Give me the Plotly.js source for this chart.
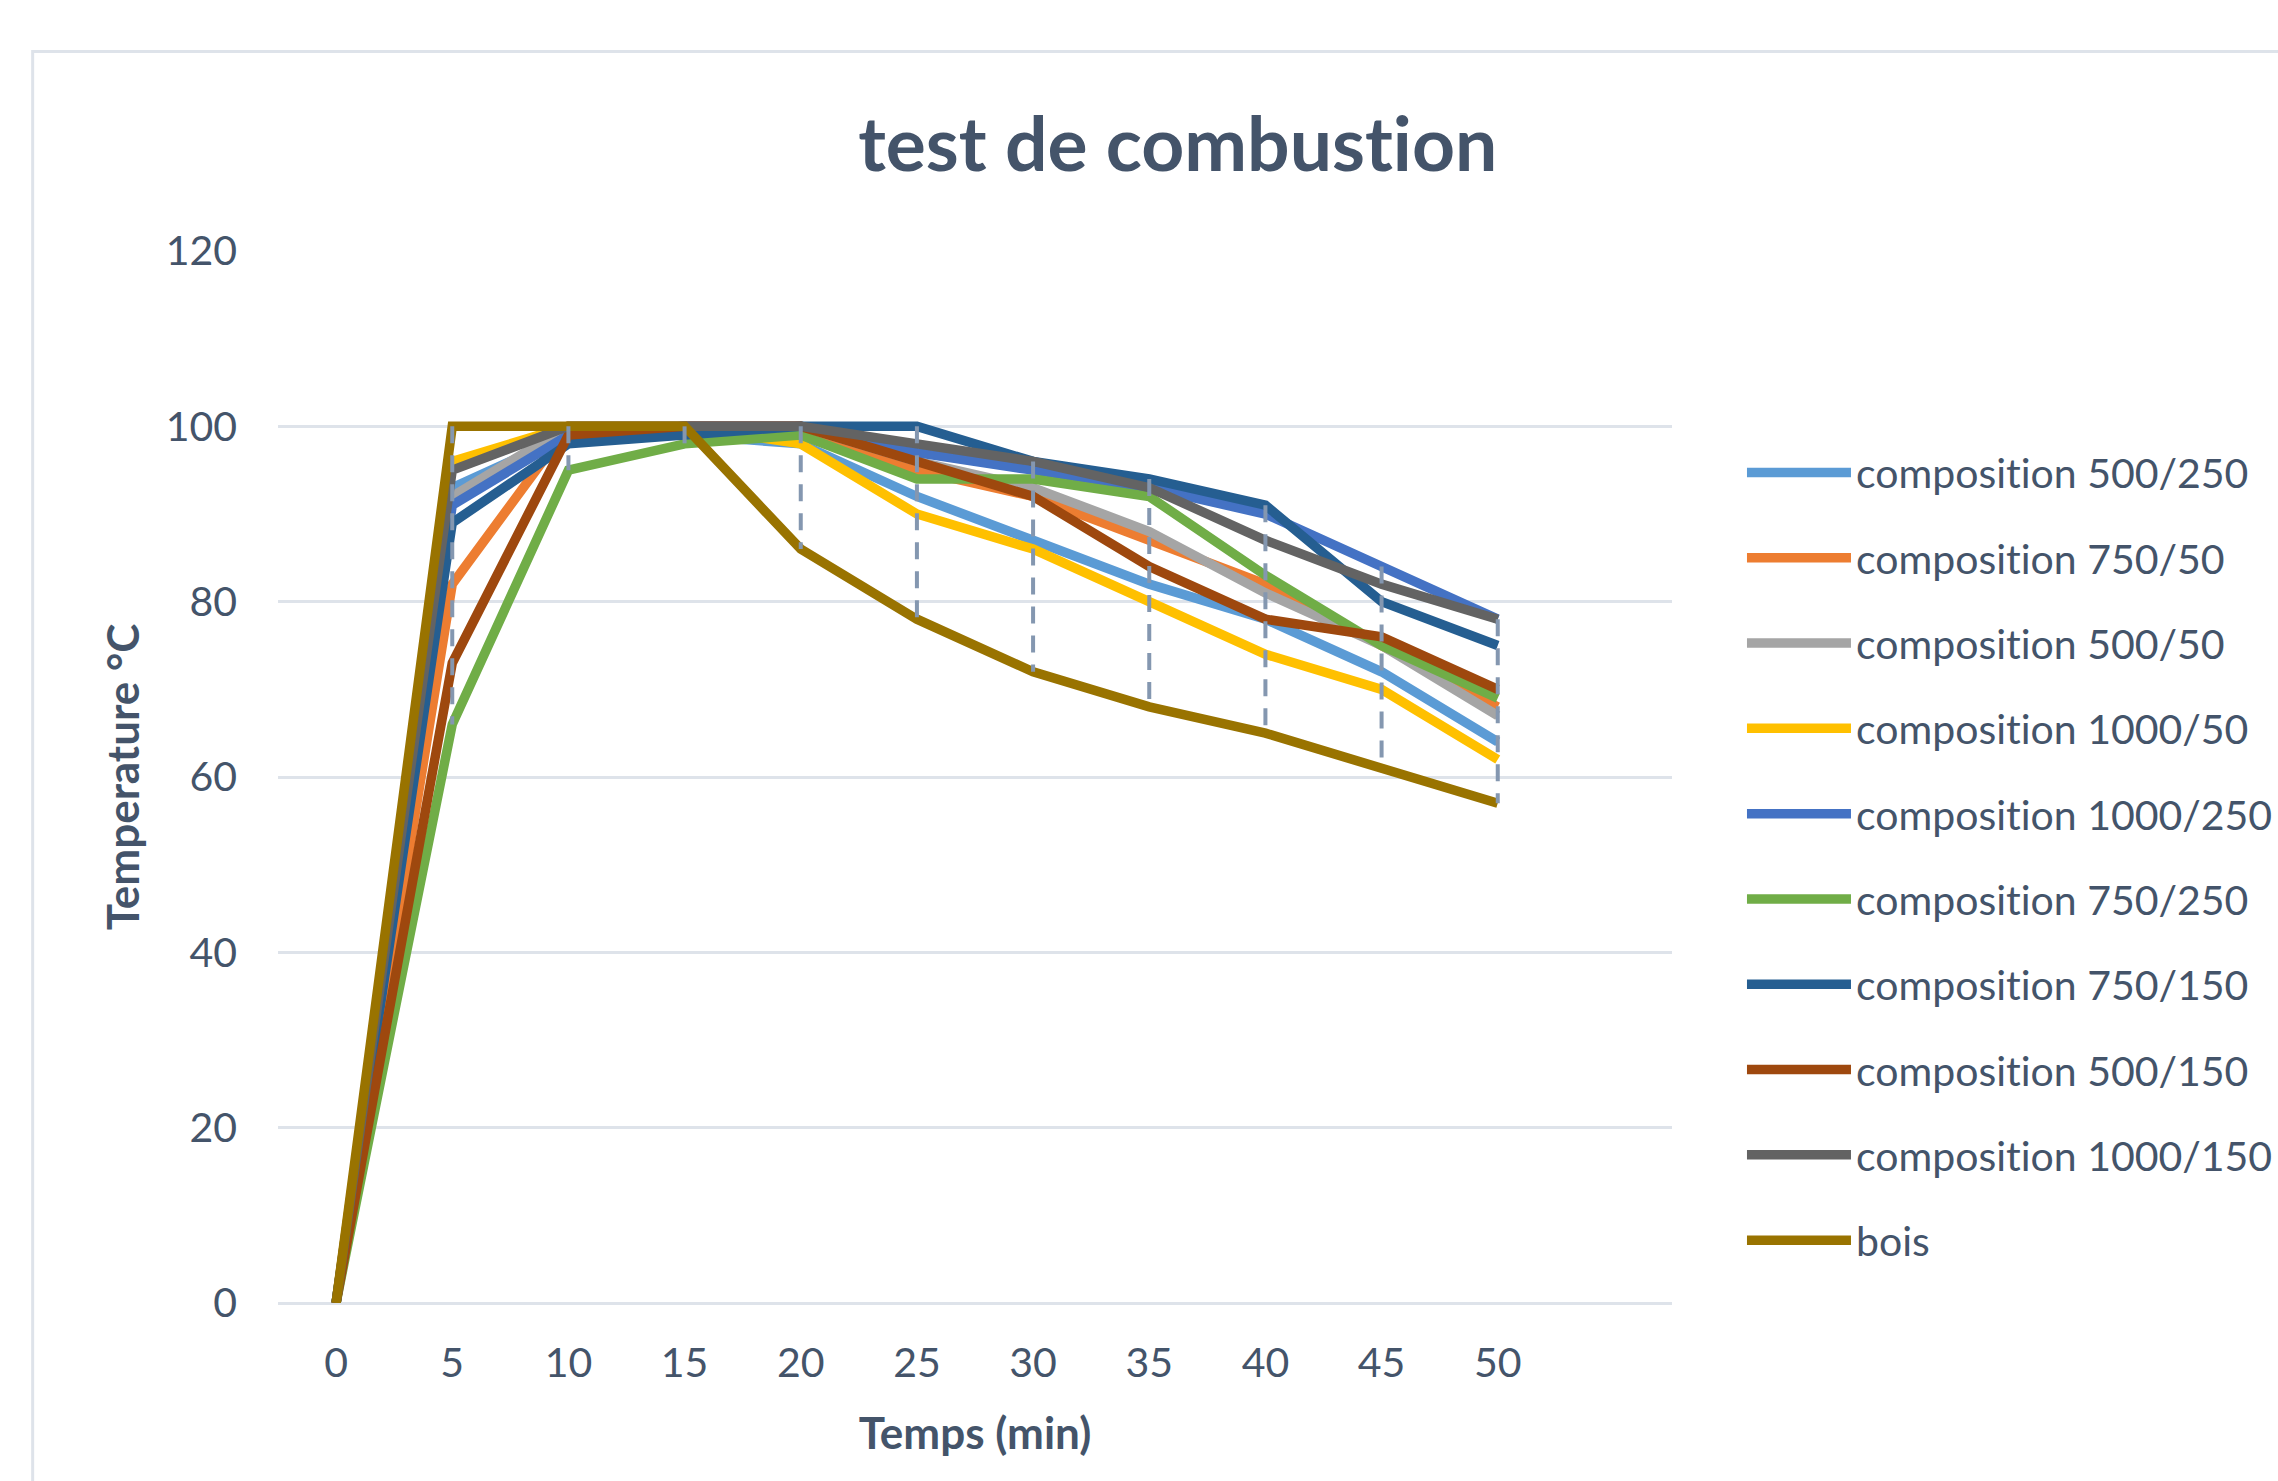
<!DOCTYPE html>
<html>
<head>
<meta charset="utf-8">
<script src="https://cdn.plot.ly/plotly-3.0.1.min.js"></script>
<style>
html,body{margin:0;padding:0;background:#fff;}
#chart{width:2278px;height:1481px;}
#chart text{font-variant-ligatures:none;font-feature-settings:"liga" 0;}
</style>
</head>
<body>
<div id="chart"></div>
<script>
// ---- data ----
const temps = [0, 5, 10, 15, 20, 25, 30, 35, 40, 45, 50];
const xTickLabels = ['0','5','10','15','20','25','30','35','40','45','50'];
const yTickValues = [0, 20, 40, 60, 80, 100, 120];

const seriesNames = [
  'composition 500/250', 'composition 750/50', 'composition 500/50',
  'composition 1000/50', 'composition 1000/250', 'composition 750/250',
  'composition 750/150', 'composition 500/150', 'composition 1000/150', 'bois'
];
const comp500_250  = [0, 93, 99, 99, 98, 92, 87, 82, 78, 72, 64];
const comp750_50   = [0, 82, 100, 100, 100, 95, 92, 87, 82, 75, 68];
const comp500_50   = [0, 92, 100, 100, 100, 96, 93, 88, 81, 75, 67];
const comp1000_50  = [0, 96, 100, 100, 98, 90, 86, 80, 74, 70, 62];
const comp1000_250 = [0, 91, 99, 100, 100, 97, 95, 93, 90, 84, 78];
const comp750_250  = [0, 66, 95, 98, 99, 94, 94, 92, 83, 75, 69];
const comp750_150  = [0, 89, 98, 99, 100, 100, 96, 94, 91, 80, 75];
const comp500_150  = [0, 73, 99, 100, 100, 96, 92, 84, 78, 76, 70];
const comp1000_150 = [0, 95, 100, 100, 100, 98, 96, 93, 87, 82, 78];
const bois         = [0, 100, 100, 100, 86, 78, 72, 68, 65, 61, 57];

const seriesValues = [comp500_250, comp750_50, comp500_50, comp1000_50, comp1000_250,
                      comp750_250, comp750_150, comp500_150, comp1000_150, bois];
const seriesColors = ['#5B9BD5', '#ED7D31', '#A5A5A5', '#FFC000', '#4472C4',
                      '#70AD47', '#255E91', '#9E480E', '#636363', '#997300'];

// ---- build traces ----
const FONT = 'Lato, Carlito, Calibri, "Open Sans", sans-serif';
const TXT = '#44546A';

const traces = seriesValues.map((vals, i) => ({
  type: 'scatter', mode: 'lines',
  x: temps, y: vals, name: seriesNames[i],
  legendgroup: 'g' + i,
  line: {color: seriesColors[i], width: 9.5},
  hoverinfo: 'x+y+name'
}));

// high-low lines (max to min at each time)
const hlX = [], hlY = [];
temps.forEach((t, j) => {
  const col = seriesValues.map(s => s[j]);
  hlX.push(t, t, null);
  hlY.push(Math.max(...col), Math.min(...col), null);
});
traces.push({
  type: 'scatter', mode: 'lines', x: hlX, y: hlY,
  showlegend: false, hoverinfo: 'skip',
  line: {color: '#8497B0', width: 4, dash: '17px,12px'}
});

const layout = {
  width: 2278, height: 1481,
  paper_bgcolor: '#ffffff', plot_bgcolor: '#ffffff',
  margin: {l: 278, r: 606, t: 251, b: 178, autoexpand: false},
  font: {family: FONT, color: TXT, size: 41},
  title: {
    text: 'test de combustion',
    font: {family: FONT, size: 75, color: TXT, weight: 700},
    x: 0.517, xref: 'container', xanchor: 'center',
    y: 0.902, yref: 'container', yanchor: 'middle'
  },
  xaxis: {
    range: [-2.5, 57.5],
    tickmode: 'array', tickvals: temps, ticktext: xTickLabels,
    showgrid: false, zeroline: false, showline: false,
    ticks: '', ticklabelstandoff: 32,
    tickfont: {family: FONT, size: 41, color: TXT},
    title: {text: 'Temps (min)', font: {family: FONT, size: 44, color: TXT, weight: 700}, standoff: 33}
  },
  yaxis: {
    range: [0, 120],
    tickmode: 'array', tickvals: yTickValues,
    showgrid: true, gridcolor: '#DEE3EA', gridwidth: 3,
    zeroline: true, zerolinecolor: '#DEE3EA', zerolinewidth: 3,
    showline: false, ticks: '', ticklabelstandoff: 40,
    tickfont: {family: FONT, size: 41, color: TXT},
    title: {text: 'Temperature °C', font: {family: FONT, size: 44, color: TXT, weight: 700}, standoff: 12}
  },
  showlegend: true,
  legend: {
    x: 1.0502, xanchor: 'left', y: 0.821, yanchor: 'top',
    font: {family: FONT, size: 41, color: TXT},
    itemwidth: 104, tracegroupgap: 29,
    bgcolor: 'rgba(0,0,0,0)'
  },
  shapes: [{
    type: 'rect', xref: 'paper', yref: 'paper',
    x0: -0.176, x1: 1.9, y0: -0.5, y1: 1.1897,
    line: {color: '#DEE3EA', width: 3}, fillcolor: 'rgba(0,0,0,0)', layer: 'below'
  }]
};

Plotly.newPlot('chart', traces, layout, {staticPlot: true, displayModeBar: false});
</script>
</body>
</html>
